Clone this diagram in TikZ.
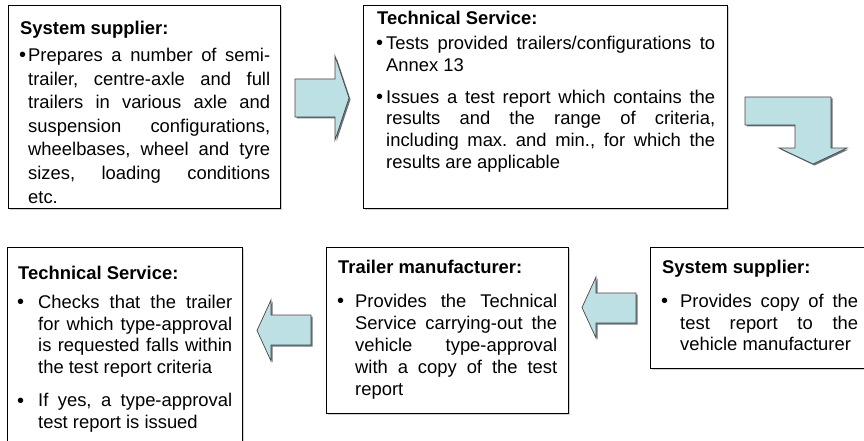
\documentclass[tikz,border=0pt]{standalone}
\usepackage{fontspec}
\setmainfont{Liberation Sans}
\usetikzlibrary{shadows}

\definecolor{arrowfill}{RGB}{188,224,228}
\definecolor{arrowline}{RGB}{70,70,70}

\tikzset{
  cell/.style={draw=black, line width=1.1pt, fill=white, rectangle,
    inner sep=0pt, anchor=north west,
    drop shadow={shadow xshift=1.2pt, shadow yshift=-1.2pt, fill=black!35}},
  celltext/.style={inner sep=0pt, anchor=base west,
    font=\fontsize{18.4}{22}\selectfont},
  blockarrow/.style={fill=arrowfill, draw=arrowline, line width=0.7pt,
    line join=miter},
  blockshadow/.style={fill=black!55}
}

% bullet list lines: justified first line, justified inner line, ragged last line
\newlength\bind
\newcommand\bulmark{\hskip-1pt\raisebox{-0.5pt}{\fontsize{20}{20}\selectfont •}}
\newcommand\bhead[1]{\hbox{\bfseries #1}}
\newcommand\bfirst[1]{\hbox to \hsize{\rlap{\bulmark}\hskip\bind #1}}
\newcommand\bline[1]{\hbox to \hsize{\hskip\bind #1}}
\newcommand\blast[1]{\hbox to \hsize{\hskip\bind #1\hfil}}
\newcommand\cellsetup[2]{\frenchspacing\baselineskip=#1pt\relax
  \lineskiplimit=-100pt\relax\setlength\bind{#2pt}}

\begin{document}
\begin{tikzpicture}[x=1pt, y=-1pt]
\useasboundingbox (0,0) rectangle (864,441);
\clip (0,0) rectangle (864,441);

% ---- boxes ----
\node[cell, minimum width=272pt, minimum height=203pt] (b1) at (8,5) {};
\node[cell, minimum width=364pt, minimum height=203pt] (b2) at (363,5) {};
\node[cell, minimum width=235pt, minimum height=210pt] (b3) at (7,247) {};
\node[cell, minimum width=242pt, minimum height=166pt] (b4) at (326,247) {};
\node[cell, minimum width=230pt, minimum height=121pt] (b5) at (650,247) {};

% ---- texts ----
\node[celltext] (t1) at (20,34.5) {\parbox[t]{250pt}{\cellsetup{23.6}{8}%
  \bhead{System supplier:}\vskip3.4pt
  \bfirst{Prepares a number of semi-}
  \bline{trailer, centre-axle and full}
  \bline{trailers in various axle and}
  \bline{suspension configurations,}
  \bline{wheelbases, wheel and tyre}
  \bline{sizes, loading conditions}
  \blast{etc.}}};

\node[celltext] (t2) at (377,24.5) {\parbox[t]{338pt}{\cellsetup{21.7}{9}%
  \bhead{Technical Service:}\vskip3.3pt
  \bfirst{Tests provided trailers/configurations to}
  \blast{Annex 13}
  \vskip10.3pt
  \bfirst{Issues a test report which contains the}
  \bline{results and the range of criteria,}
  \bline{including max. and min., for which the}
  \blast{results are applicable}}};

\node[celltext] (t3) at (18,279) {\parbox[t]{214pt}{\cellsetup{21.8}{20}%
  \bhead{Technical Service:}\vskip7.5pt
  \bfirst{Checks that the trailer}
  \bline{for which type-approval}
  \bline{is requested falls within}
  \blast{the test report criteria}
  \vskip11pt
  \bfirst{If yes, a type-approval}
  \blast{test report is issued}}};

\node[celltext] (t4) at (338,273.5) {\parbox[t]{219pt}{\cellsetup{22}{17}%
  \bhead{Trailer manufacturer:}\vskip11.5pt
  \bfirst{Provides the Technical}
  \bline{Service carrying-out the}
  \bline{vehicle type-approval}
  \bline{with a copy of the test}
  \blast{report}}};

\node[celltext] (t5) at (662,273.5) {\parbox[t]{196pt}{\cellsetup{21.8}{18}%
  \bhead{System supplier:}\vskip12pt
  \bfirst{Provides copy of the}
  \bline{test report to the}
  \blast{vehicle manufacturer}}};

% ---- block arrows ----
\def\arrowright{(295,79) -- (335,79) -- (335,56) -- (349,98) -- (335,140) -- (335,117) -- (295,117) -- cycle}
\def\arrowbent{(745,97) -- (831,97) -- (831,148) -- (847,148) -- (813,164) -- (779,148) -- (795,148) -- (795,125) -- (745,125) -- cycle}
\def\arrowleftA{(636,293) -- (596,293) -- (596,277) -- (582,307.5) -- (596,338) -- (596,323) -- (636,323) -- cycle}
\def\arrowleftB{(311,315) -- (271,315) -- (271,300) -- (257,330.5) -- (271,361) -- (271,345) -- (311,345) -- cycle}

\foreach \shape in {\arrowright,\arrowbent,\arrowleftA,\arrowleftB}{
  \begin{scope}[shift={(1.5,1.5)}]
    \fill[blockshadow] \shape;
  \end{scope}
  \path[blockarrow] \shape;
}
\end{tikzpicture}
\end{document}
